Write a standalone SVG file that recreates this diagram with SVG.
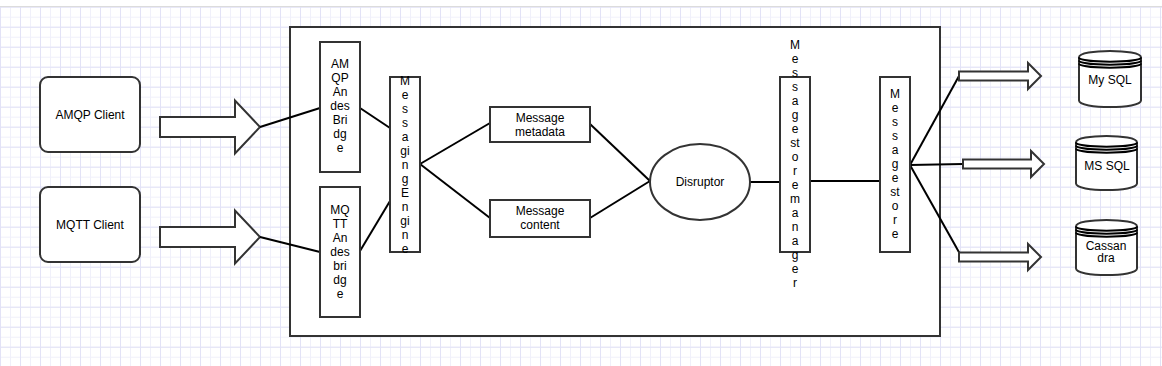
<svg xmlns="http://www.w3.org/2000/svg" width="1162" height="366" viewBox="0 0 1162 366">
<style>
.sh{fill:#fff;stroke:#333;stroke-width:2}
.t{font-family:"Liberation Sans",Arial,sans-serif;font-size:12px;fill:#000;text-anchor:middle}
.c{stroke:#000;stroke-width:2;fill:none}
</style>
<defs>
<pattern id="minor" x="0" y="6.7" width="10" height="10" patternUnits="userSpaceOnUse">
<path d="M0,0.5H10M0.5,0V10" stroke="#f0f0fa" stroke-width="1" fill="none"/>
</pattern>
<pattern id="major" x="0" y="6.7" width="20" height="20" patternUnits="userSpaceOnUse">
<path d="M0,0.5H20M0.5,0V20" stroke="#e2e2f6" stroke-width="1" fill="none"/>
</pattern>
</defs>
<rect width="1162" height="366" fill="#fff"/>
<rect y="7" width="1162" height="359" fill="url(#minor)"/>
<rect y="7" width="1162" height="359" fill="url(#major)"/>
<line x1="0" y1="6.5" x2="1162" y2="6.5" stroke="#dcdcdc" stroke-width="1"/>

<g id="container"><rect class="sh" x="290" y="27" width="650" height="309"/></g>

<g id="amqp-client"><rect class="sh" x="40" y="77" width="100" height="75" rx="8"/><text class="t" x="90" y="119">AMQP Client</text></g>
<g id="mqtt-client"><rect class="sh" x="40" y="187" width="100" height="75" rx="8"/><text class="t" x="90" y="229">MQTT Client</text></g>

<g id="amqp-arrow"><path class="sh" d="M160,117H235V100.5L260,127L235,153.5V137H160Z"/></g>
<g id="mqtt-arrow"><path class="sh" d="M160,227H235V210.5L260,237L235,263.5V247H160Z"/></g>

<g id="connectors">
<line class="c" x1="260" y1="127" x2="320" y2="108"/>
<line class="c" x1="260" y1="237" x2="320" y2="252"/>
<line class="c" x1="360" y1="108" x2="390" y2="128"/>
<line class="c" x1="360" y1="251" x2="390" y2="201"/>
<line class="c" x1="420" y1="164" x2="490" y2="123"/>
<line class="c" x1="420" y1="164" x2="490" y2="218"/>
<line class="c" x1="590" y1="124" x2="650" y2="181"/>
<line class="c" x1="590" y1="218" x2="650" y2="181"/>
<line class="c" x1="750" y1="182" x2="780" y2="182"/>
<line class="c" x1="810" y1="181" x2="880" y2="181"/>
<line class="c" x1="910" y1="165" x2="959" y2="76"/>
<line class="c" x1="910" y1="165" x2="963" y2="164"/>
<line class="c" x1="910" y1="165" x2="960" y2="254"/>
</g>

<g id="amqp-bridge"><rect class="sh" x="320" y="42" width="40" height="130"/>
<text class="t"><tspan x="340" y="68">AM</tspan><tspan x="340" dy="14">QP</tspan><tspan x="340" dy="14">An</tspan><tspan x="340" dy="14">des</tspan><tspan x="340" dy="14">Bri</tspan><tspan x="340" dy="14">dg</tspan><tspan x="340" dy="14">e</tspan></text></g>
<g id="mqtt-bridge"><rect class="sh" x="320" y="187" width="40" height="130"/>
<text class="t"><tspan x="340" y="214">MQ</tspan><tspan x="340" dy="14">TT</tspan><tspan x="340" dy="14">An</tspan><tspan x="340" dy="14">des</tspan><tspan x="340" dy="14">bri</tspan><tspan x="340" dy="14">dg</tspan><tspan x="340" dy="14">e</tspan></text></g>

<g id="messaging-engine"><rect class="sh" x="390" y="77" width="30" height="175"/>
<text class="t"><tspan x="405" y="85">M</tspan><tspan x="405" dy="14">e</tspan><tspan x="405" dy="14">s</tspan><tspan x="405" dy="14">s</tspan><tspan x="405" dy="14">a</tspan><tspan x="405" dy="14">gi</tspan><tspan x="405" dy="14">n</tspan><tspan x="405" dy="14">g</tspan><tspan x="405" dy="14">E</tspan><tspan x="405" dy="14">n</tspan><tspan x="405" dy="14">gi</tspan><tspan x="405" dy="14">n</tspan><tspan x="405" dy="14">e</tspan></text></g>

<g id="message-metadata"><rect class="sh" x="490" y="107" width="100" height="35"/>
<text class="t"><tspan x="540" y="122">Message</tspan><tspan x="540" dy="14">metadata</tspan></text></g>
<g id="message-content"><rect class="sh" x="490" y="200" width="100" height="37"/>
<text class="t"><tspan x="540" y="215">Message</tspan><tspan x="540" dy="14">content</tspan></text></g>

<g id="disruptor"><ellipse class="sh" cx="700" cy="182" rx="50" ry="38"/><text class="t" x="700" y="186">Disruptor</text></g>

<g id="message-store-manager"><rect class="sh" x="780" y="77" width="30" height="175"/>
<text class="t"><tspan x="795" y="49">M</tspan><tspan x="795" dy="14">e</tspan><tspan x="795" dy="14">s</tspan><tspan x="795" dy="14">s</tspan><tspan x="795" dy="14">a</tspan><tspan x="795" dy="14">g</tspan><tspan x="795" dy="14">e</tspan><tspan x="795" dy="14">st</tspan><tspan x="795" dy="14">o</tspan><tspan x="795" dy="14">r</tspan><tspan x="795" dy="14">e</tspan><tspan x="795" dy="14">m</tspan><tspan x="795" dy="14">a</tspan><tspan x="795" dy="14">n</tspan><tspan x="795" dy="14">a</tspan><tspan x="795" dy="14">g</tspan><tspan x="795" dy="14">e</tspan><tspan x="795" dy="14">r</tspan></text></g>

<g id="message-store"><rect class="sh" x="880" y="77" width="30" height="175"/>
<text class="t"><tspan x="895" y="98">M</tspan><tspan x="895" dy="14">e</tspan><tspan x="895" dy="14">s</tspan><tspan x="895" dy="14">s</tspan><tspan x="895" dy="14">a</tspan><tspan x="895" dy="14">g</tspan><tspan x="895" dy="14">e</tspan><tspan x="895" dy="14">st</tspan><tspan x="895" dy="14">o</tspan><tspan x="895" dy="14">r</tspan><tspan x="895" dy="14">e</tspan></text></g>

<g id="arrow-mysql"><path class="sh" d="M959,71.5H1028V63L1041,76L1028,89V80.5H959Z"/></g>
<g id="arrow-mssql"><path class="sh" d="M963,159.5H1031V151L1044,164L1031,177V168.5H963Z"/></g>
<g id="arrow-cassandra"><path class="sh" d="M959,252.5H1028V244L1041,257L1028,270V261.5H959Z"/></g>

<g id="mysql" transform="translate(1079,51)">
<path class="sh" d="M0,6.5C0,-2.2 62,-2.2 62,6.5V49.5C62,58.2 0,58.2 0,49.5Z"/>
<path class="c" stroke="#333" d="M0,6.5C0,12 62,12 62,6.5M0,9.5C0,15 62,15 62,9.5M0,12.5C0,18 62,18 62,12.5" stroke-width="1"/>
<text class="t" x="31" y="33">My SQL</text></g>
<g id="mssql" transform="translate(1076,136)">
<path class="sh" d="M0,6.5C0,-2.2 61,-2.2 61,6.5V47.5C61,56.2 0,56.2 0,47.5Z"/>
<path class="c" stroke="#333" d="M0,6.5C0,12 61,12 61,6.5M0,9.5C0,15 61,15 61,9.5M0,12.5C0,18 61,18 61,12.5" stroke-width="1"/>
<text class="t" x="31" y="34">MS SQL</text></g>
<g id="cassandra" transform="translate(1076,220)">
<path class="sh" d="M0,6.5C0,-2.2 61,-2.2 61,6.5V48.5C61,57.2 0,57.2 0,48.5Z"/>
<path class="c" stroke="#333" d="M0,6.5C0,12 61,12 61,6.5M0,9.5C0,15 61,15 61,9.5M0,12.5C0,18 61,18 61,12.5" stroke-width="1"/>
<text class="t"><tspan x="30" y="30">Cassan</tspan><tspan x="30" dy="12">dra</tspan></text></g>
</svg>
